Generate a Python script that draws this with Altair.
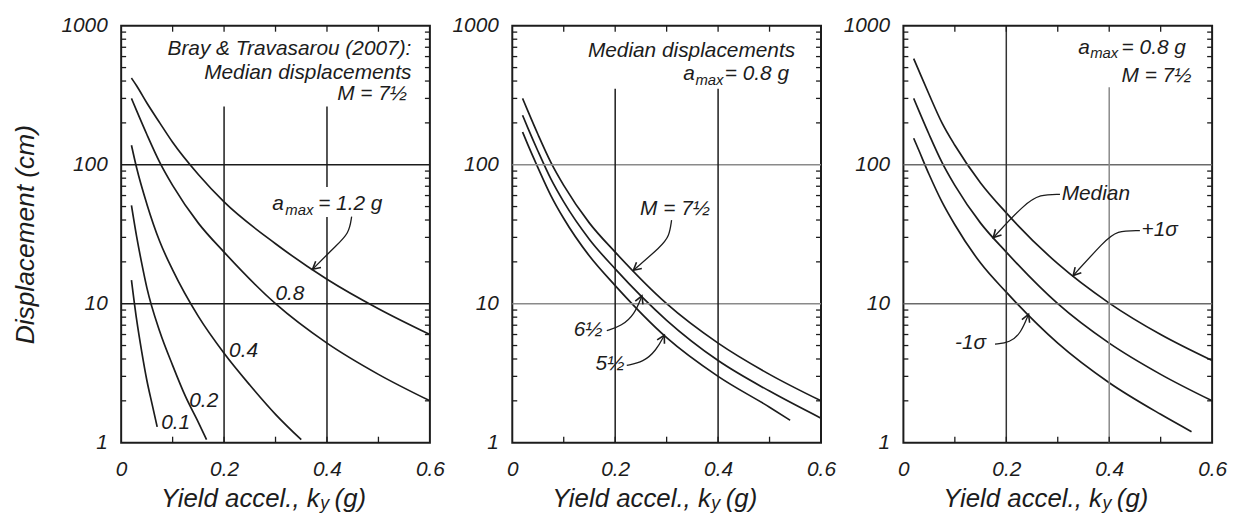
import altair as alt
import pandas as pd

FONT = "Liberation Sans"
INK = "#1c1c1c"
W, H = 311, 420

# ---------------- curve values ----------------
KY = [0.02, 0.03, 0.05, 0.075, 0.1, 0.15, 0.2, 0.3, 0.4, 0.5, 0.6]
P1_A12 = [420, 370, 278, 200, 145, 85, 54, 27, 15, 9.2, 6.0]
P1_A08 = [300, 245, 165, 104, 71, 38, 23.5, 10, 5.2, 3.1, 2.0]
KY_A04 = [0.02, 0.03, 0.05, 0.075, 0.1, 0.15, 0.2, 0.25, 0.3, 0.35]
P1_A04 = [138, 95, 52, 28, 17.5, 8.1, 4.4, 2.6, 1.6, 1.05]
KY_A02 = [0.02, 0.03, 0.04, 0.05, 0.075, 0.1, 0.125, 0.15, 0.166]
P1_A02 = [51, 30.5, 19.5, 13, 6.3, 3.6, 2.15, 1.4, 1.05]
KY_A01 = [0.02, 0.03, 0.04, 0.05, 0.06, 0.07]
P1_A01 = [14.8, 7.7, 4.5, 2.8, 1.9, 1.3]

P2_M75 = [300, 245, 165, 104, 71, 38, 23.5, 10, 5.2, 3.1, 2.0]
P2_M65 = [227, 185, 125, 79, 54, 29, 17.8, 7.6, 3.9, 2.35, 1.5]
KY_M55 = [0.02, 0.03, 0.05, 0.075, 0.1, 0.15, 0.2, 0.3, 0.4, 0.5, 0.54]
P2_M55 = [172, 140, 95, 60, 41, 22, 13.5, 5.7, 3.0, 1.8, 1.45]

P3_P1S = [580, 475, 320, 200, 138, 74, 45, 19.4, 10.1, 6.0, 3.9]
P3_MED = [300, 245, 165, 104, 71, 38, 23.5, 10, 5.2, 3.1, 2.0]
KY_M1S = [0.02, 0.03, 0.05, 0.075, 0.1, 0.15, 0.2, 0.3, 0.4, 0.5, 0.56]
P3_M1S = [155, 127, 85, 54, 37, 19.6, 12.1, 5.2, 2.7, 1.6, 1.2]

# axis tick values
X_LABELS = [0, 0.2, 0.4, 0.6]
Y_LABELS = [1, 10, 100, 1000]
X_MINOR = [0.1, 0.2, 0.3, 0.4, 0.5]
Y_MINOR = [2, 3, 4, 5, 6, 7, 8, 9, 20, 30, 40, 50, 60, 70, 80, 90,
           200, 300, 400, 500, 600, 700, 800, 900]
H_GRID = [10, 100]

# vertical reference lines (x, from, to)
P1_VG = ([0.2, 0.4, 0.4], [1, 1, 69], [262, 42, 262])
P2_VG = ([0.2, 0.4], [1, 1], [352, 352])
P3_VG_DARK = ([0.2], [1], [1000])
P3_VG_GREY = ([0.4], [1], [361])

# annotations: (labels, ky, D)
P1_TXT_R = (["Bray & Travasarou (2007):", "Median displacements", "M = 7½"],
            [0.564, 0.564, 0.556], [612, 416, 290])
P1_TXT_L = (["a", "= 1.2 g", "0.8", "0.4", "0.2", "0.1"],
            [0.2934, 0.3828, 0.2998, 0.2097, 0.1324, 0.0778],
            [47.1, 47.1, 10.6, 4.11, 1.81, 1.25])
P1_SUB = (["max"], [0.319], [43.4])
P1_LEAD = {"a12": ([0.4479, 0.4430, 0.4170, 0.372], [42.3, 32.0, 26.0, 17.7])}
P1_ARROW = ([0.372], [17.7], [50])

P2_TXT_R = (["Median displacements"], [0.5497], [598])
P2_TXT_L = (["a", "= 0.8 g", "M = 7½", "6½", "5½"],
            [0.3322, 0.413, 0.2484, 0.1193, 0.1619],
            [408, 408, 43.3, 5.89, 3.31])
P2_SUB = (["max"], [0.356], [376])
P2_LEAD = {"m75": ([0.3096, 0.3050, 0.2900, 0.2354], [39.9, 30.5, 26.0, 17.4]),
           "m65": ([0.1837, 0.2128, 0.2374, 0.252], [6.39, 6.93, 8.35, 11.4]),
           "m55": ([0.2225, 0.2548, 0.280, 0.2955], [3.6, 3.8, 4.62, 5.93])}
P2_ARROW = ([0.2354, 0.252, 0.2955], [17.4, 11.4, 5.93], [50, 202, 208])

P3_TXT_R = (["M = 7½"], [0.56], [392])
P3_TXT_L = (["a", "= 0.8 g", "Median", "+1σ", "-1σ"],
            [0.3398, 0.4241, 0.3076, 0.4629, 0.1004],
            [630, 630, 55.8, 30.6, 4.71])
P3_SUB = (["max"], [0.363], [583])
P3_LEAD = {"med": ([0.3043, 0.2655, 0.2350, 0.1748], [61.2, 61.2, 52.0, 29.9]),
           "p1s": ([0.4596, 0.4143, 0.3900, 0.330], [33.6, 33.6, 28.0, 15.95]),
           "m1s": ([0.178, 0.2072, 0.2285, 0.2433], [5.11, 5.25, 6.15, 8.4])}
P3_ARROW = ([0.1748, 0.330, 0.2433], [29.9, 15.95, 8.4], [43, 42, 202])

# ---------------- helpers ----------------
XS = alt.Scale(domain=[0, 0.6], nice=False, zero=False)
YS = alt.Scale(type="log", domain=[1, 1000], nice=False)
ARROW_PATH = "M-0.55,-1L0,0L0.55,-1"
LABEL_STYLE = dict(labelFont=FONT, labelFontStyle="italic", labelFontSize=21,
                   labelColor=INK)
TITLE_Y = 485


def X(field="ky"):
    return alt.X(f"{field}:Q", scale=XS)


def Y(field="D"):
    return alt.Y(f"{field}:Q", scale=YS)


def curves(items, ytitle):
    frames = [pd.DataFrame({"ky": k, "D": d, "curve": n}) for n, k, d in items]
    df = pd.concat(frames, ignore_index=True)
    yaxis = alt.Axis(values=Y_LABELS, format="d", ticks=False, domain=False,
                     grid=False, labelPadding=14, labelFlush=False,
                     title=ytitle, titlePadding=22, titleFont=FONT,
                     titleFontStyle="italic", titleFontSize=26.5,
                     titleFontWeight="normal", titleColor=INK, **LABEL_STYLE)
    xaxis = alt.Axis(values=X_LABELS, format="~g", ticks=False,
                     domain=False, grid=False, labelPadding=16,
                     labelFlush=False, title=None, **LABEL_STYLE)
    return alt.Chart(df).mark_line(color=INK, strokeWidth=1.7,
                                   interpolate="monotone").encode(
        x=alt.X("ky:Q", scale=XS, axis=xaxis),
        y=alt.Y("D:Q", scale=YS, axis=yaxis),
        detail="curve:N")


def hgrid(color):
    return alt.Chart(pd.DataFrame({"D": H_GRID})).mark_rule(
        color=color, strokeWidth=1.5).encode(y=Y())


def vgrid(spec, color):
    xs, lo, hi = spec
    df = pd.DataFrame({"ky": xs, "lo": lo, "hi": hi})
    return alt.Chart(df).mark_rule(color=color, strokeWidth=1.5).encode(
        x=X(), y=Y("lo"), y2="hi:Q")


def minor_ticks():
    ydf = pd.DataFrame({"D": Y_MINOR})
    xdf = pd.DataFrame({"ky": X_MINOR})
    left = alt.Chart(ydf).mark_rule(color=INK, strokeWidth=1.3).encode(
        y=Y(), x=alt.value(0), x2=alt.value(5))
    right = alt.Chart(ydf).mark_rule(color=INK, strokeWidth=1.3).encode(
        y=Y(), x=alt.value(W), x2=alt.value(W - 5))
    bottom = alt.Chart(xdf).mark_rule(color=INK, strokeWidth=1.3).encode(
        x=X(), y=alt.value(H), y2=alt.value(H - 6))
    top = alt.Chart(xdf).mark_rule(color=INK, strokeWidth=1.3).encode(
        x=X(), y=alt.value(0), y2=alt.value(6))
    return [left, right, bottom, top]


def texts(spec, align, size=21):
    labels, ks, ds = spec
    df = pd.DataFrame({"label": labels, "ky": ks, "D": ds})
    return alt.Chart(df).mark_text(font=FONT, fontStyle="italic",
                                   fontSize=size, color=INK, align=align,
                                   baseline="alphabetic").encode(
        x=X(), y=Y(), text="label:N")


def leaders(spec):
    frames = []
    for name, (ks, ds) in spec.items():
        frames.append(pd.DataFrame({"ky": ks, "D": ds, "id": name,
                                    "seq": list(range(len(ks)))}))
    df = pd.concat(frames, ignore_index=True)
    return alt.Chart(df).mark_line(color=INK, strokeWidth=1.3,
                                   interpolate="basis").encode(
        x=X(), y=Y(), detail="id:N", order="seq:Q")


def arrows(spec):
    ks, ds, ang = spec
    df = pd.DataFrame({"ky": ks, "D": ds, "ang": ang})
    return alt.Chart(df).mark_point(shape=ARROW_PATH, size=230, filled=False,
                                    color=INK, strokeWidth=1.6,
                                    opacity=1).encode(
        x=X(), y=Y(), angle=alt.Angle("ang:Q", scale=None))


def xtitle():
    style = dict(font=FONT, fontStyle="italic", color=INK, baseline="alphabetic")
    main = alt.Chart(pd.DataFrame({"t": ["Yield accel., k"]})).mark_text(
        fontSize=26, align="right", **style).encode(
        x=alt.value(200), y=alt.value(TITLE_Y), text="t:N")
    sub = alt.Chart(pd.DataFrame({"t": ["y"]})).mark_text(
        fontSize=18, align="left", **style).encode(
        x=alt.value(200.5), y=alt.value(TITLE_Y + 2), text="t:N")
    tail = alt.Chart(pd.DataFrame({"t": ["(g)"]})).mark_text(
        fontSize=26, align="left", **style).encode(
        x=alt.value(215), y=alt.value(TITLE_Y), text="t:N")
    return [main, sub, tail]


# ---------------- panels ----------------
p1 = alt.layer(
    curves([("1.2", KY, P1_A12), ("0.8", KY, P1_A08), ("0.4", KY_A04, P1_A04),
            ("0.2", KY_A02, P1_A02), ("0.1", KY_A01, P1_A01)],
           "Displacement (cm)"),
    hgrid(INK), vgrid(P1_VG, INK), *minor_ticks(),
    texts(P1_TXT_R, "right"), texts(P1_TXT_L, "left"), texts(P1_SUB, "left", 15),
    leaders(P1_LEAD), arrows(P1_ARROW), *xtitle(),
).properties(width=W, height=H)

p2 = alt.layer(
    curves([("7.5", KY, P2_M75), ("6.5", KY, P2_M65), ("5.5", KY_M55, P2_M55)],
           None),
    hgrid("#8a8a8a"), vgrid(P2_VG, INK), *minor_ticks(),
    texts(P2_TXT_R, "right"), texts(P2_TXT_L, "left"), texts(P2_SUB, "left", 15),
    leaders(P2_LEAD), arrows(P2_ARROW), *xtitle(),
).properties(width=W, height=H)

p3 = alt.layer(
    curves([("+1", KY, P3_P1S), ("med", KY, P3_MED), ("-1", KY_M1S, P3_M1S)],
           None),
    hgrid("#6a6a6a"), vgrid(P3_VG_DARK, "#333333"), vgrid(P3_VG_GREY, "#8a8a8a"),
    *minor_ticks(),
    texts(P3_TXT_R, "right"), texts(P3_TXT_L, "left"), texts(P3_SUB, "left", 15),
    leaders(P3_LEAD), arrows(P3_ARROW), *xtitle(),
).properties(width=W, height=H)

chart = alt.hconcat(p1, p2, p3, spacing=83, bounds="flush").properties(
    padding={"left": 3, "top": 4, "right": 0, "bottom": 0},
    background="white"
).configure_view(
    stroke=INK, strokeWidth=2
)

chart.save("out.html", embed_options={"renderer": "svg", "actions": False})
